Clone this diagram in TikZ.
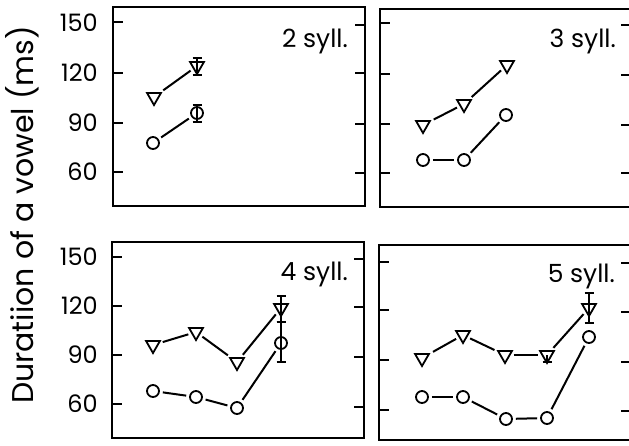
\documentclass[tikz,border=0pt]{standalone}
\usepackage{fontspec}
\setmainfont{Poppins}
\usetikzlibrary{shapes.geometric}
\tikzset{
  frame/.style={line width=2pt},
  tk/.style={line width=1.8pt},
  tri/.style={regular polygon, regular polygon sides=3, shape border rotate=180, draw, line width=1.8pt, minimum size=16pt, inner sep=0pt},
  circ/.style={circle, draw, line width=1.8pt, minimum size=12pt, inner sep=0pt},
  conn/.style={line width=2pt, shorten >=3pt, shorten <=3pt},
  err/.style={line width=1.8pt},
  ticklab/.style={anchor=east, font=\fontsize{24}{24}\selectfont, inner sep=0pt},
  sylllab/.style={anchor=base east, font=\fontsize{25}{25}\selectfont, inner sep=0pt},
  ylab/.style={rotate=90, anchor=base, font=\fontsize{30}{30}\selectfont, inner sep=0pt}
}
\newcommand\ebar[3]{\draw[err] (#1-4.5,#2) -- (#1+4.5,#2) (#1,#2) -- (#1,#3) (#1-4.5,#3) -- (#1+4.5,#3);}
\begin{document}
\begin{tikzpicture}[x=1pt,y=-1pt]
\clip (0,0) rectangle (629,445);
\fill[white] (0,0) rectangle (629,445);
% frames
\draw[frame] (113,7) rectangle (365,206);
\draw[frame] (380,9) rectangle (640,207);
\draw[frame] (112,242) rectangle (364,438);
\draw[frame] (379,245) rectangle (640,440);
% ticks
\foreach \y in {22,73,123,172} \draw[tk] (113,\y) -- (123,\y);
\foreach \y in {25,73,124,173} \draw[tk] (365,\y) -- (355,\y);
\foreach \y in {23,74,124,173} \draw[tk] (380,\y) -- (390,\y);
\foreach \y in {25,75,125,173} \draw[tk] (631,\y) -- (621,\y);
\foreach \y in {257,306,355,404} \draw[tk] (112,\y) -- (122,\y);
\foreach \y in {259,307,357,407} \draw[tk] (364,\y) -- (354,\y);
\foreach \y in {262,310,360,410} \draw[tk] (379,\y) -- (389,\y);
\foreach \y in {263,312,362,411} \draw[tk] (631,\y) -- (621,\y);
% tick labels
\foreach \v/\y [count=\i] in {150/23,120/73,90/123,60/172} \node[ticklab] (ta\i) at (98,\y) {\v};
\foreach \v/\y [count=\i] in {150/257,120/306,90/355,60/404} \node[ticklab] (tb\i) at (98,\y) {\v};
% axis label
\node[ylab] (yl) at (33,215) {Duratiion of a vowel (ms)};
% panel labels
\node[sylllab] (s2) at (348,47) {2 syll.};
\node[sylllab] (s3) at (616,47) {3 syll.};
\node[sylllab] (s4) at (348,280) {4 syll.};
\node[sylllab] (s5) at (615,282) {5 syll.};
% error bars
\ebar{197}{58}{75}
\ebar{197}{105}{122}
\ebar{281}{296}{322}
\ebar{281}{322}{362}
\ebar{589}{293}{323}
\draw[err] (547,355) -- (547,362) (542.5,362) -- (551.5,362);
% panel 1
\node[tri] (p1t1) at (154,97) {};
\node[tri] (p1t2) at (197,66) {};
\node[circ] (p1c1) at (153,143) {};
\node[circ] (p1c2) at (197,113) {};
\draw[conn] (p1t1) -- (p1t2);
\draw[conn] (p1c1) -- (p1c2);
% panel 2
\node[tri] (p2t1) at (423,125) {};
\node[tri] (p2t2) at (464,104) {};
\node[tri] (p2t3) at (507,65) {};
\node[circ] (p2c1) at (423,160) {};
\node[circ] (p2c2) at (464,160) {};
\node[circ] (p2c3) at (506,115) {};
\draw[conn] (p2t1) -- (p2t2);
\draw[conn] (p2t2) -- (p2t3);
\draw[conn] (p2c1) -- (p2c2);
\draw[conn] (p2c2) -- (p2c3);
% panel 3
\node[tri] (p3t1) at (153,345) {};
\node[tri] (p3t2) at (196,332) {};
\node[tri] (p3t3) at (237,362) {};
\node[tri] (p3t4) at (281,308) {};
\node[circ] (p3c1) at (153,391) {};
\node[circ] (p3c2) at (196,397) {};
\node[circ] (p3c3) at (237,408) {};
\node[circ] (p3c4) at (281,343) {};
\draw[conn] (p3t1) -- (p3t2);
\draw[conn] (p3t2) -- (p3t3);
\draw[conn] (p3t3) -- (p3t4);
\draw[conn] (p3c1) -- (p3c2);
\draw[conn] (p3c2) -- (p3c3);
\draw[conn] (p3c3) -- (p3c4);
% panel 4
\node[tri] (p4t1) at (422,358) {};
\node[tri] (p4t2) at (463,335) {};
\node[tri] (p4t3) at (505,355) {};
\node[tri] (p4t4) at (547,355) {};
\node[tri] (p4t5) at (589,308) {};
\node[circ] (p4c1) at (422,397) {};
\node[circ] (p4c2) at (463,397) {};
\node[circ] (p4c3) at (506,419) {};
\node[circ] (p4c4) at (547,418) {};
\node[circ] (p4c5) at (589,337) {};
\draw[conn] (p4t1) -- (p4t2);
\draw[conn] (p4t2) -- (p4t3);
\draw[conn] (p4t3) -- (p4t4);
\draw[conn] (p4t4) -- (p4t5);
\draw[conn] (p4c1) -- (p4c2);
\draw[conn] (p4c2) -- (p4c3);
\draw[conn] (p4c3) -- (p4c4);
\draw[conn] (p4c4) -- (p4c5);
\end{tikzpicture}
\end{document}
